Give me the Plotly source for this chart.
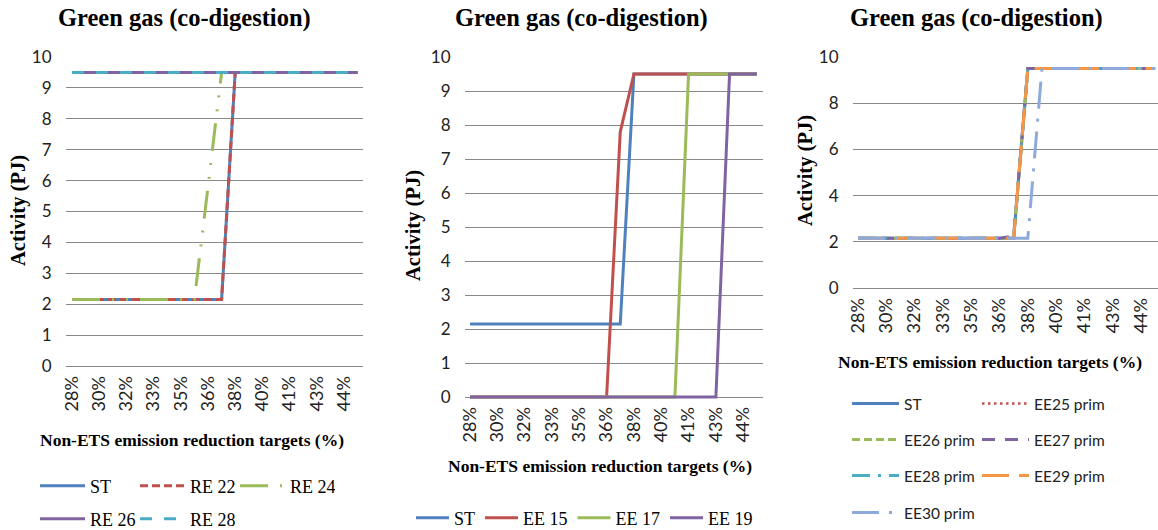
import plotly.graph_objects as go

W, H = 1158, 530

# ---------------- data ----------------
categories = ["28%", "29%", "30%", "31%", "32%", "32.5%", "33%", "34%", "35%", "35.5%", "36%",
              "37%", "38%", "39%", "40%", "40.5%", "41%", "42%", "43%", "43.5%", "44%", "45%"]
tick_labels = ["28%", "30%", "32%", "33%", "35%", "36%", "38%", "40%", "41%", "43%", "44%"]

# Panel 1
p1_ST   = [2.15, 2.15, 2.15, 2.15, 2.15, 2.15, 2.15, 2.15, 2.15, 2.15, 2.15, 2.15, 9.5, 9.5, 9.5, 9.5, 9.5, 9.5, 9.5, 9.5, 9.5, 9.5]
p1_RE22 = [2.15, 2.15, 2.15, 2.15, 2.15, 2.15, 2.15, 2.15, 2.15, 2.15, 2.15, 2.15, 9.5, 9.5, 9.5, 9.5, 9.5, 9.5, 9.5, 9.5, 9.5, 9.5]
p1_RE24 = [2.15, 2.15, 2.15, 2.15, 2.15, 2.15, 2.15, 2.15, 2.15, 2.15, 5.8, 9.5, 9.5, 9.5, 9.5, 9.5, 9.5, 9.5, 9.5, 9.5, 9.5, 9.5]
p1_RE26 = [9.5, 9.5, 9.5, 9.5, 9.5, 9.5, 9.5, 9.5, 9.5, 9.5, 9.5, 9.5, 9.5, 9.5, 9.5, 9.5, 9.5, 9.5, 9.5, 9.5, 9.5, 9.5]
p1_RE28 = [9.5, 9.5, 9.5, 9.5, 9.5, 9.5, 9.5, 9.5, 9.5, 9.5, 9.5, 9.5, 9.5, 9.5, 9.5, 9.5, 9.5, 9.5, 9.5, 9.5, 9.5, 9.5]

# Panel 2
p2_ST   = [2.15, 2.15, 2.15, 2.15, 2.15, 2.15, 2.15, 2.15, 2.15, 2.15, 2.15, 2.15, 9.5, 9.5, 9.5, 9.5, 9.5, 9.5, 9.5, 9.5, 9.5, 9.5]
p2_EE15 = [0, 0, 0, 0, 0, 0, 0, 0, 0, 0, 0, 7.8, 9.5, 9.5, 9.5, 9.5, 9.5, 9.5, 9.5, 9.5, 9.5, 9.5]
p2_EE17 = [0, 0, 0, 0, 0, 0, 0, 0, 0, 0, 0, 0, 0, 0, 0, 0, 9.5, 9.5, 9.5, 9.5, 9.5, 9.5]
p2_EE19 = [0, 0, 0, 0, 0, 0, 0, 0, 0, 0, 0, 0, 0, 0, 0, 0, 0, 0, 0, 9.5, 9.5, 9.5]

# Panel 3
p3_ST   = [2.15, 2.15, 2.15, 2.15, 2.15, 2.15, 2.15, 2.15, 2.15, 2.15, 2.15, 2.15, 9.5, 9.5, 9.5, 9.5, 9.5, 9.5, 9.5, 9.5, 9.5, 9.5]
p3_EE25 = [2.15, 2.15, 2.15, 2.15, 2.15, 2.15, 2.15, 2.15, 2.15, 2.15, 2.15, 2.15, 9.5, 9.5, 9.5, 9.5, 9.5, 9.5, 9.5, 9.5, 9.5, 9.5]
p3_EE26 = [2.15, 2.15, 2.15, 2.15, 2.15, 2.15, 2.15, 2.15, 2.15, 2.15, 2.15, 2.15, 9.5, 9.5, 9.5, 9.5, 9.5, 9.5, 9.5, 9.5, 9.5, 9.5]
p3_EE27 = [2.15, 2.15, 2.15, 2.15, 2.15, 2.15, 2.15, 2.15, 2.15, 2.15, 2.15, 2.25, 9.5, 9.5, 9.5, 9.5, 9.5, 9.5, 9.5, 9.5, 9.5, 9.5]
p3_EE28 = [2.15, 2.15, 2.15, 2.15, 2.15, 2.15, 2.15, 2.15, 2.15, 2.15, 2.15, 2.15, 9.5, 9.5, 9.5, 9.5, 9.5, 9.5, 9.5, 9.5, 9.5, 9.5]
p3_EE29 = [2.15, 2.15, 2.15, 2.15, 2.15, 2.15, 2.15, 2.15, 2.15, 2.15, 2.15, 2.15, 9.5, 9.5, 9.5, 9.5, 9.5, 9.5, 9.5, 9.5, 9.5, 9.5]
p3_EE30 = [2.15, 2.15, 2.15, 2.15, 2.15, 2.15, 2.15, 2.15, 2.15, 2.15, 2.15, 2.15, 2.15, 9.5, 9.5, 9.5, 9.5, 9.5, 9.5, 9.5, 9.5, 9.5]

TITLE = "Green gas (co-digestion)"
XTITLE = "Non-ETS emission reduction targets (%)"
YTITLE = "Activity (PJ)"

# ---------------- style ----------------
BLUE, RED, GREEN, PURPLE, CYAN, ORANGE, LBLUE = "#4F81BD", "#C0504D", "#9BBB59", "#8064A2", "#4BACC6", "#F79646", "#8EA9DB"
SERIF = "Liberation Serif, Times New Roman, serif"
SANS = "Lato, Calibri, sans-serif"
GRID = "#888888"
XTICKFONT = dict(family=SANS, size=18, color="#222")
YTICKFONT = dict(family=SANS, size=17, color="#222")

# panel frames (pixel geometry of each plot area)
frames = [
    dict(left=66, right=363, idx0=72, step=13.6, y0=366, y10=57, dtick=1),
    dict(left=465, right=763, idx0=470, step=13.66, y0=397, y10=57, dtick=1),
    dict(left=853, right=1158, idx0=858, step=14.15, y0=288, y10=57, dtick=2),
]

fig = go.Figure()

def add(panel, y, name, color, dash, legend, width=3):
    sfx = "" if panel == 1 else str(panel)
    fig.add_trace(go.Scatter(
        x=categories, y=y, name=name, mode="lines",
        line=dict(color=color, width=width, dash=dash),
        xaxis="x" + sfx, yaxis="y" + sfx, legend=legend, hoverinfo="skip"))

add(1, p1_ST, "ST", BLUE, "solid", "legend")
add(1, p1_RE22, "RE 22", RED, "8px,4px", "legend")
add(1, p1_RE24, "RE 24", GREEN, "28px,12px,2px,12px,2px,12px", "legend")
add(1, p1_RE26, "RE 26", PURPLE, "solid", "legend2")
add(1, p1_RE28, "RE 28", CYAN, "12px,12px", "legend2")

add(2, p2_ST, "ST", BLUE, "solid", "legend3")
add(2, p2_EE15, "EE 15", RED, "solid", "legend3")
add(2, p2_EE17, "EE 17", GREEN, "solid", "legend3")
add(2, p2_EE19, "EE 19", PURPLE, "solid", "legend3")

add(3, p3_ST, "ST", BLUE, "solid", "legend4")
add(3, p3_EE25, "EE25 prim", RED, "2.5px,3.5px", "legend4", width=2.5)
add(3, p3_EE26, "EE26 prim", GREEN, "8px,4px", "legend5")
add(3, p3_EE27, "EE27 prim", PURPLE, "13px,10px", "legend5")
add(3, p3_EE28, "EE28 prim", CYAN, "18px,8px,3px,8px", "legend6")
add(3, p3_EE29, "EE29 prim", ORANGE, "27px,10px", "legend6")
add(3, p3_EE30, "EE30 prim", LBLUE, "27px,10px,3px,10px", "legend7")

layout = dict(width=W, height=H, margin=dict(l=0, r=0, t=0, b=0, autoexpand=False),
              paper_bgcolor="white", plot_bgcolor="white", showlegend=True)

annotations = []
title_pos = [(184, 18), (581, 18), (976, 18)]
ytitle_pos = [(18, 211), (413, 226), (805, 171)]
xtitle_pos = [(192, 440), (600, 466), (990, 362)]

for i, fr in enumerate(frames):
    sfx = "" if i == 0 else str(i + 1)
    ppu = (fr["y0"] - fr["y10"]) / 10.0
    lo, hi = -2.0 / ppu, 10 + 1.0 / ppu
    ytop = fr["y10"] - (hi - 10) * ppu
    ybot = fr["y0"] + (0 - lo) * ppu
    xlo = (fr["left"] - fr["idx0"]) / fr["step"]
    xhi = (fr["right"] - fr["idx0"]) / fr["step"]
    layout["xaxis" + sfx] = dict(
        domain=[fr["left"] / W, min(fr["right"] / W, 1.0)], anchor="y" + sfx,
        type="category", range=[xlo, xhi], categoryorder="array", categoryarray=categories,
        tickmode="array", tickvals=tick_labels, ticktext=tick_labels, tickangle=-90,
        showgrid=False, zeroline=False, showline=False,
        ticks="outside", ticklen=0, tickcolor="rgba(0,0,0,0)",
        tickfont=XTICKFONT, fixedrange=True)
    layout["yaxis" + sfx] = dict(
        domain=[1 - ybot / H, 1 - ytop / H], anchor="x" + sfx, range=[lo, hi],
        tickmode="linear", tick0=0, dtick=fr["dtick"], showgrid=True, gridcolor=GRID, gridwidth=1,
        zeroline=False, showline=False,
        ticks="outside", ticklen=10, tickcolor="rgba(0,0,0,0)",
        tickfont=YTICKFONT, fixedrange=True)
    annotations.append(dict(text=TITLE, x=title_pos[i][0] / W, y=1 - title_pos[i][1] / H,
                            xref="paper", yref="paper", showarrow=False, xanchor="center", yanchor="middle",
                            font=dict(family=SERIF, size=24.5, color="black", weight="bold")))
    annotations.append(dict(text=YTITLE, x=ytitle_pos[i][0] / W, y=1 - ytitle_pos[i][1] / H, textangle=-90,
                            xref="paper", yref="paper", showarrow=False, xanchor="center", yanchor="middle",
                            font=dict(family=SERIF, size=20.5, color="black", weight="bold")))
    annotations.append(dict(text=XTITLE, x=xtitle_pos[i][0] / W, y=1 - xtitle_pos[i][1] / H,
                            xref="paper", yref="paper", showarrow=False, xanchor="center", yanchor="middle",
                            font=dict(family=SERIF, size=17.5, color="black", weight="bold")))

layout["annotations"] = annotations

def leg(x, y, font, itemwidth, entrywidth=None):
    d = dict(orientation="h", x=x / W, y=1 - y / H, xanchor="left", yanchor="middle",
             xref="paper", yref="paper", font=font, itemwidth=itemwidth,
             bgcolor="rgba(0,0,0,0)", borderwidth=0, traceorder="normal",
             itemclick=False, itemdoubleclick=False, tracegroupgap=0)
    if entrywidth is not None:
        d["entrywidth"] = entrywidth
        d["entrywidthmode"] = "pixels"
    return d

serif_leg = dict(family=SERIF, size=18, color="black")
sans_leg = dict(family=SANS, size=15.5, color="#222")
layout["legend"] = leg(35, 486, serif_leg, 45, 40)
layout["legend2"] = leg(35, 519, serif_leg, 45, 40)
layout["legend3"] = leg(411, 518, serif_leg, 33)
layout["legend4"] = leg(847, 404, sans_leg, 47, 68)
layout["legend5"] = leg(847, 440, sans_leg, 47, 68)
layout["legend6"] = leg(847, 476, sans_leg, 47, 68)
layout["legend7"] = leg(847, 513, sans_leg, 47, 68)

fig.update_layout(**layout)
fig.write_html("out.html", config={"displayModeBar": False},
               post_script="document.body.style.margin='0px';")
